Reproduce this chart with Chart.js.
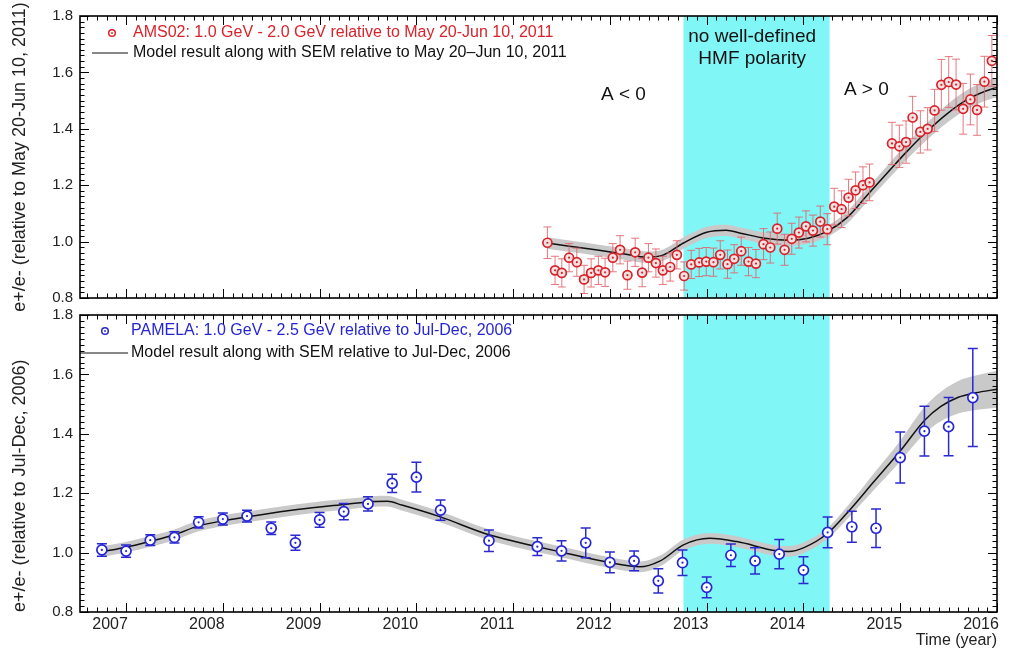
<!DOCTYPE html>
<html><head><meta charset="utf-8">
<script src="https://cdn.jsdelivr.net/npm/chart.js@4.4.1/dist/chart.umd.min.js"></script>
<style>
html,body{margin:0;padding:0;background:#fff;}
#wrap{position:relative;width:1018px;height:656px;}
canvas{position:absolute;left:0;top:0;}
</style></head><body>
<div id="wrap"><canvas id="top" width="1018" height="656"></canvas><canvas id="bot" width="1018" height="656"></canvas></div>
<script>
// ---------- data ----------
const xRange = [2006.524, 2016.0];
const yRange = [0.8, 1.8];
const noPolarityYears = [2012.76, 2014.27];

// AMS02 (top panel)
const amsYears = [2011.354,2011.433,2011.503,2011.578,2011.658,2011.733,2011.806,2011.881,2011.950,2012.030,
  2012.105,2012.181,2012.261,2012.333,2012.398,2012.475,2012.547,2012.623,2012.692,2012.767,
  2012.840,2012.922,2012.995,2013.070,2013.140,2013.215,2013.284,2013.357,2013.432,2013.509,
  2013.587,2013.657,2013.729,2013.805,2013.879,2013.953,2014.026,2014.098,2014.174,2014.246,
  2014.318,2014.394,2014.466,2014.539,2014.615,2014.683,2014.915,2014.991,2015.060,2015.128,
  2015.208,2015.283,2015.355,2015.425,2015.501,2015.577,2015.650,2015.725,2015.794,2015.870,
  2015.947];
const amsValues = [0.996,0.898,0.889,0.943,0.927,0.866,0.889,0.898,0.891,0.943,
  0.971,0.881,0.962,0.890,0.943,0.924,0.898,0.910,0.953,0.878,
  0.919,0.926,0.929,0.927,0.953,0.920,0.939,0.966,0.929,0.922,
  0.991,0.979,1.046,0.971,1.010,1.032,1.054,1.039,1.071,1.044,
  1.124,1.115,1.156,1.182,1.200,1.210,1.348,1.338,1.353,1.440,
  1.389,1.400,1.465,1.556,1.566,1.557,1.471,1.504,1.467,1.567,
  1.641];
const amsErrors = [0.056,0.050,0.050,0.050,0.050,0.050,0.050,0.050,0.050,0.050,
  0.050,0.050,0.050,0.050,0.050,0.050,0.050,0.050,0.050,0.050,
  0.050,0.050,0.050,0.050,0.050,0.050,0.050,0.050,0.050,0.050,
  0.055,0.055,0.055,0.055,0.055,0.055,0.055,0.055,0.055,0.055,
  0.065,0.065,0.065,0.065,0.065,0.065,0.075,0.075,0.075,0.075,
  0.075,0.075,0.075,0.090,0.090,0.090,0.090,0.090,0.090,0.090,
  0.090];
const amsModelYears = [2011.35,2011.6,2011.87,2012.15,2012.38,2012.55,2012.76,2013.0,2013.2,2013.35,2013.6,2013.85,
  2014.05,2014.25,2014.45,2014.66,2014.87,2015.07,2015.28,2015.49,2015.7,2015.96,2016.0];
const amsModelValues = [0.995,0.983,0.970,0.956,0.945,0.952,0.995,1.033,1.040,1.030,1.012,1.005,
  1.012,1.037,1.085,1.165,1.245,1.320,1.392,1.455,1.505,1.543,1.546];
const amsModelSem = [0.02,0.02,0.02,0.02,0.02,0.02,0.02,0.02,0.02,0.02,0.02,0.02,
  0.02,0.02,0.022,0.024,0.026,0.028,0.03,0.032,0.034,0.035,0.035];

// PAMELA (bottom panel)
const pamYears = [2006.75,2007.0,2007.25,2007.5,2007.75,2008.0,2008.25,2008.5,2008.75,2009.0,
  2009.25,2009.5,2009.75,2010.0,2010.25,2010.75,2011.25,2011.5,2011.75,2012.0,
  2012.25,2012.5,2012.75,2013.0,2013.25,2013.5,2013.75,2014.0,2014.25,2014.5,
  2014.75,2015.0,2015.25,2015.5,2015.75];
const pamValues = [1.009,1.005,1.042,1.051,1.102,1.113,1.123,1.082,1.033,1.110,
  1.138,1.164,1.233,1.254,1.143,1.040,1.020,1.006,1.033,0.967,
  0.972,0.905,0.966,0.883,0.991,0.972,0.995,0.941,1.068,1.087,
  1.082,1.320,1.409,1.424,1.522];
const pamErrors = [0.021,0.021,0.018,0.019,0.019,0.020,0.020,0.021,0.025,0.025,
  0.027,0.024,0.031,0.050,0.034,0.036,0.030,0.034,0.050,0.035,
  0.033,0.041,0.043,0.035,0.038,0.044,0.049,0.045,0.052,0.052,
  0.065,0.086,0.084,0.098,0.165];
const pamModelYears = [2006.75,2007.0,2007.25,2007.5,2007.75,2008.0,2008.25,2008.77,2009.28,2009.55,2009.7,2009.85,
  2010.24,2010.76,2011.25,2011.48,2012.0,2012.31,2012.52,2012.76,2013.03,2013.31,2013.72,2013.85,
  2014.0,2014.25,2014.49,2014.72,2015.0,2015.25,2015.42,2015.6,2015.78,2016.0];
const pamModelValues = [1.003,1.018,1.038,1.060,1.090,1.107,1.120,1.145,1.163,1.172,1.173,1.160,
  1.121,1.059,1.020,1.003,0.966,0.952,0.972,1.026,1.048,1.037,1.006,1.004,
  1.016,1.065,1.148,1.236,1.342,1.445,1.492,1.523,1.538,1.550];
const pamModelSem = [0.018,0.018,0.018,0.018,0.018,0.018,0.018,0.018,0.018,0.018,0.018,0.018,
  0.018,0.018,0.018,0.018,0.018,0.018,0.018,0.018,0.018,0.018,0.018,0.018,
  0.018,0.018,0.022,0.028,0.035,0.045,0.050,0.055,0.058,0.062];

const amsLegend = ['AMS02: 1.0 GeV - 2.0 GeV relative to May 20-Jun 10, 2011',
                   'Model result along with SEM relative to May 20\u2013Jun 10, 2011'];
const pamLegend = ['PAMELA: 1.0 GeV - 2.5 GeV relative to Jul-Dec, 2006',
                   'Model result along with SEM relative to Jul-Dec, 2006'];
const topNotes = [
  {text: 'A < 0', x: 2012.14, y: 1.52},
  {text: 'no well-defined', x: 2013.47, y: 1.728},
  {text: 'HMF polarity', x: 2013.47, y: 1.648},
  {text: 'A > 0', x: 2014.65, y: 1.537}
];

// ---------- drawing ----------
const FONT = '"Liberation Sans", Arial, Helvetica, sans-serif';
const CYAN = '#80f6f6';
const BAND = '#c9c9c9';

function pts(xs, ys) { return xs.map((x, i) => ({x: x, y: ys[i]})); }
function offsetPts(xs, ys, es, s) { return xs.map((x, i) => ({x: x, y: ys[i] + s * es[i]})); }

function decorations(spec) {
  return {
    id: 'deco' + spec.name,
    beforeDatasetsDraw(chart) {
      const {ctx, chartArea: a, scales: {x}} = chart;
      const x0 = x.getPixelForValue(noPolarityYears[0]);
      const x1 = x.getPixelForValue(noPolarityYears[1]);
      ctx.save();
      ctx.fillStyle = CYAN;
      ctx.fillRect(x0, a.top, x1 - x0, a.bottom - a.top);
      ctx.restore();
    },
    afterDatasetDraw(chart, args) {
      if (args.index !== 1) return;
      const {ctx, chartArea: a, scales: {x, y}} = chart;
      ctx.save();
      ctx.beginPath(); ctx.rect(a.left, a.top, a.right - a.left, a.bottom - a.top); ctx.clip();
      ctx.strokeStyle = spec.barColor; ctx.lineWidth = spec.barWidth;
      ctx.beginPath();
      spec.xs.forEach((xv, i) => {
        const px = x.getPixelForValue(xv);
        const yl = y.getPixelForValue(spec.ys[i] - spec.es[i]);
        const yh = y.getPixelForValue(spec.ys[i] + spec.es[i]);
        ctx.moveTo(px, yl); ctx.lineTo(px, yh);
        ctx.moveTo(px - spec.cap, yl); ctx.lineTo(px + spec.cap, yl);
        ctx.moveTo(px - spec.cap, yh); ctx.lineTo(px + spec.cap, yh);
      });
      ctx.stroke();
      ctx.restore();
    },
    afterDatasetsDraw(chart) {
      const {ctx} = chart;
      const meta = chart.getDatasetMeta(0);
      ctx.save();
      ctx.fillStyle = spec.color;
      meta.data.forEach(p => { ctx.beginPath(); ctx.arc(p.x, p.y, 1.1, 0, Math.PI * 2); ctx.fill(); });
      ctx.restore();
    },
    afterDraw(chart) {
      const {ctx, chartArea: a, scales: {x, y}} = chart;
      ctx.save();
      // ticks (inward, all four sides)
      ctx.strokeStyle = '#000'; ctx.lineWidth = 1;
      ctx.beginPath();
      for (let k = Math.ceil(xRange[0] * 10); k <= Math.floor(xRange[1] * 10); k++) {
        const px = Math.round(x.getPixelForValue(k / 10)) + 0.5;
        const len = (k % 10 === 0) ? 9 : 4.5;
        ctx.moveTo(px, a.bottom); ctx.lineTo(px, a.bottom - len);
        ctx.moveTo(px, a.top); ctx.lineTo(px, a.top + len);
      }
      for (let k = Math.round(yRange[0] * 50); k <= Math.round(yRange[1] * 50); k++) {
        const py = Math.round(y.getPixelForValue(k / 50)) + 0.5;
        const len = (k % 10 === 0) ? 9 : 4.5;
        ctx.moveTo(a.left, py); ctx.lineTo(a.left + len, py);
        ctx.moveTo(a.right, py); ctx.lineTo(a.right - len, py);
      }
      ctx.stroke();
      ctx.lineWidth = 1.6;
      ctx.strokeRect(a.left, a.top, a.right - a.left, a.bottom - a.top);
      // legend
      ctx.font = '16px ' + FONT; ctx.textBaseline = 'middle'; ctx.textAlign = 'left';
      ctx.fillStyle = spec.color;
      ctx.fillText(spec.legend[0], spec.textX, spec.row1);
      ctx.beginPath(); ctx.arc(spec.markX, spec.row1, 3.3, 0, Math.PI * 2);
      ctx.strokeStyle = spec.color; ctx.lineWidth = 1.5; ctx.stroke();
      ctx.beginPath(); ctx.arc(spec.markX, spec.row1, 0.9, 0, Math.PI * 2); ctx.fill();
      ctx.fillStyle = '#111';
      ctx.fillText(spec.legend[1], spec.textX, spec.row2);
      ctx.strokeStyle = '#111'; ctx.lineWidth = 1.2;
      ctx.beginPath(); ctx.moveTo(spec.lineX0, spec.row2); ctx.lineTo(spec.lineX1, spec.row2); ctx.stroke();
      // notes
      ctx.font = '19px ' + FONT; ctx.textAlign = 'center'; ctx.fillStyle = '#111';
      spec.notes.forEach(n => ctx.fillText(n.text, x.getPixelForValue(n.x), y.getPixelForValue(n.y)));
      ctx.restore();
    }
  };
}

function makeChart(id, spec) {
  const datasets = [
    {data: pts(spec.xs, spec.ys), showLine: false, order: 0, pointStyle: 'circle',
     pointRadius: spec.radius, pointBorderWidth: 1.7, pointBorderColor: spec.color,
     pointBackgroundColor: spec.fill, pointHoverRadius: spec.radius},
    {data: pts(spec.mx, spec.my), showLine: true, order: 1, borderColor: '#111', borderWidth: 1.5,
     pointRadius: 0, cubicInterpolationMode: 'monotone', fill: false},
    {data: offsetPts(spec.mx, spec.my, spec.me, 1), showLine: true, order: 2, borderWidth: 0,
     borderColor: 'rgba(0,0,0,0)', pointRadius: 0, cubicInterpolationMode: 'monotone', fill: false},
    {data: offsetPts(spec.mx, spec.my, spec.me, -1), showLine: true, order: 3, borderWidth: 0,
     borderColor: 'rgba(0,0,0,0)', pointRadius: 0, cubicInterpolationMode: 'monotone',
     fill: 2, backgroundColor: BAND}
  ];
  return new Chart(document.getElementById(id), {
    type: 'scatter',
    data: {datasets: datasets},
    options: {
      responsive: false, animation: false, devicePixelRatio: 1,
      layout: {padding: spec.padding},
      plugins: {legend: {display: false}, tooltip: {enabled: false}},
      scales: {
        x: {
          type: 'linear', min: xRange[0], max: xRange[1], display: spec.showX,
          grid: {display: false, drawTicks: false, tickLength: 0}, border: {display: false},
          ticks: {stepSize: 1, includeBounds: false, labelOffset: -16, padding: 3, maxRotation: 0,
                  color: '#222', font: {family: FONT, size: 16},
                  callback: v => Number.isInteger(v) ? String(v) : ''},
          title: {display: spec.showX, text: 'Time (year)', align: 'end', color: '#222',
                  font: {family: FONT, size: 16}, padding: {top: 0, bottom: 6}},
          afterFit: s => { if (spec.showX) s.height = 44; }
        },
        y: {
          type: 'linear', min: yRange[0], max: yRange[1],
          grid: {display: false, drawTicks: false, tickLength: 0}, border: {display: false},
          ticks: {stepSize: 0.2, padding: 7, color: '#222', font: {family: FONT, size: 15},
                  callback: v => v.toFixed(1)},
          title: {display: true, text: spec.yTitle, align: spec.titleAlign, color: '#222',
                  font: {family: FONT, size: 18}, padding: {top: 9, bottom: 0}},
          afterFit: s => { s.width = 80; }
        }
      }
    },
    plugins: [decorations(spec)]
  });
}

makeChart('top', {
  name: 'Top', xs: amsYears, ys: amsValues, es: amsErrors,
  mx: amsModelYears, my: amsModelValues, me: amsModelSem,
  color: '#d9232b', fill: '#f3e3e3', barColor: 'rgba(226,96,104,0.85)', barWidth: 1, cap: 4, radius: 4.5,
  padding: {left: 0, top: 13, right: 21, bottom: 358}, showX: false,
  yTitle: 'e+/e- (relative to May 20-Jun 10, 2011)', titleAlign: 'center',
  legend: amsLegend, textX: 133, markX: 112, lineX0: 92, lineX1: 128, row1: 33, row2: 53,
  notes: topNotes
});
makeChart('bot', {
  name: 'Bot', xs: pamYears, ys: pamValues, es: pamErrors,
  mx: pamModelYears, my: pamModelValues, me: pamModelSem,
  color: '#2626d4', fill: '#ffffff', barColor: '#2a2ad0', barWidth: 1.5, cap: 5, radius: 5,
  padding: {left: 0, top: 315, right: 21, bottom: 0}, showX: true,
  yTitle: 'e+/e- (relative to Jul-Dec, 2006)', titleAlign: 'start',
  legend: pamLegend, textX: 131, markX: 105, lineX0: 80, lineX1: 128, row1: 331, row2: 353,
  notes: []
});
</script>
</body></html>
